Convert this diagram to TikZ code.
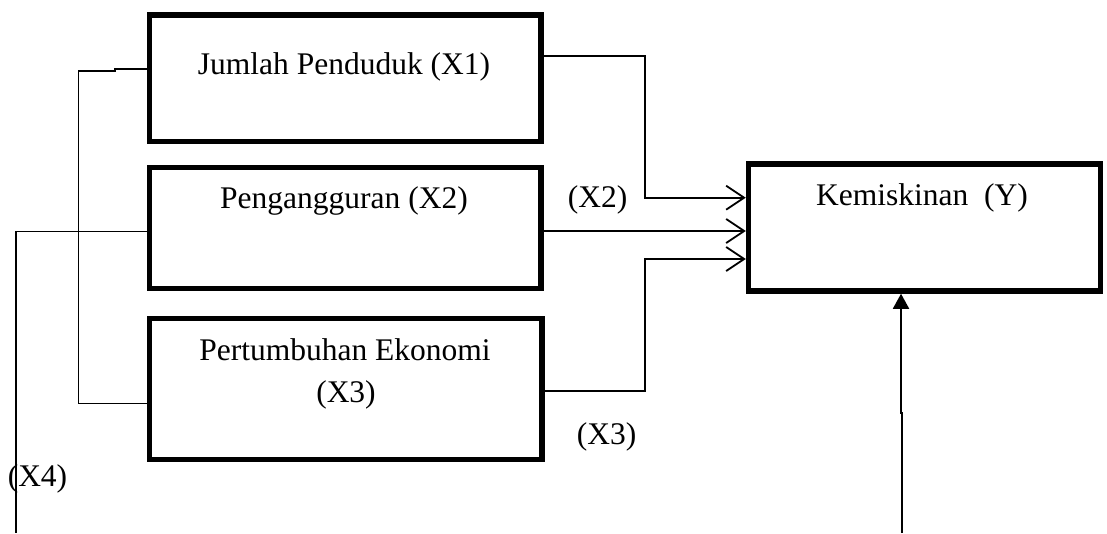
\documentclass[tikz,border=0pt]{standalone}
\usepackage{fontspec}
\setmainfont{Liberation Serif}
\usetikzlibrary{arrows.meta,calc}
\begin{document}
\begin{tikzpicture}[x=1pt,y=-1pt,
  box/.style={draw,line width=5.5pt,inner sep=0pt},
  txt/.style={font=\fontsize{31.5}{37}\selectfont,inner sep=0pt},
  conn/.style={line width=1.8pt},
  thinconn/.style={line width=1.5pt},
  arr/.style={conn,-{Straight Barb[length=18pt,width=24pt]}},
  uparr/.style={conn,-{Triangle[length=15pt,width=16pt]}}]
\useasboundingbox (0,0) rectangle (1107,533);
% boxes
\node[box,minimum width=391.5pt,minimum height=126.5pt] (x1) at (345.25,78.25) {};
\node[box,minimum width=391.5pt,minimum height=121pt] (x2) at (345.25,228) {};
\node[box,minimum width=392.5pt,minimum height=141pt] (x3) at (345.75,389) {};
\node[box,minimum width=352.2pt,minimum height=127pt] (y) at (924.6,227.5) {};
% box texts
\node[txt,anchor=base] (t1) at (344,74) {Jumlah Penduduk (X1)};
\node[txt,anchor=base] (t2) at (344,208) {Pengangguran (X2)};
\node[txt,anchor=base] (t3a) at (345,360.7) {Pertumbuhan Ekonomi};
\node[txt,anchor=base] (t3b) at (346,402.7) {(X3)};
\node[txt,anchor=base] (ty) at (922,205) {Kemiskinan~~(Y)};
% free labels
\node[txt,anchor=base] (lx2) at (597.7,207.3) {(X2)};
\node[txt,anchor=base] (lx3) at (606.7,444) {(X3)};
\node[txt,anchor=base] (lx4) at (37.5,486.7) {(X4)};
% helper coordinates
\coordinate (a1) at ($(y.west)+(0,-29.8)$);
\coordinate (a2) at ($(y.west)+(0,3.5)$);
\coordinate (a3) at ($(y.west)+(0,31.5)$);
\coordinate (jr) at (645,0);
\coordinate (jl) at (78.7,0);
\coordinate (b3) at ($(x3.west)+(0,14.3)$);
\coordinate (x4end) at (16,533);
\coordinate (yb) at (902.3,533);
\coordinate (yt) at ($(y.south)+(-23.6,0)$);
% right connectors
\draw[arr] ($(x1.east)+(0,-22.25)$) -| (jr |- a1) -- (a1);
\draw[arr] (x2.east |- a2) -- (a2);
\draw[arr] ($(x3.east)+(0,1.7)$) -| (jr |- a3) -- (a3);
% left connectors
\draw[thinconn] ($(x1.west)+(0,-9.25)$) -- ++(-32,0) -- ++(0,2) -| (jl |- b3) -- (b3);
\draw[thinconn] ($(x2.west)+(0,3.7)$) -| (x4end);
% bottom arrow
\draw[uparr] (yb) -- ++(0,-120) -- ++(-1.3,0) -- (yt);
\end{tikzpicture}
\end{document}
